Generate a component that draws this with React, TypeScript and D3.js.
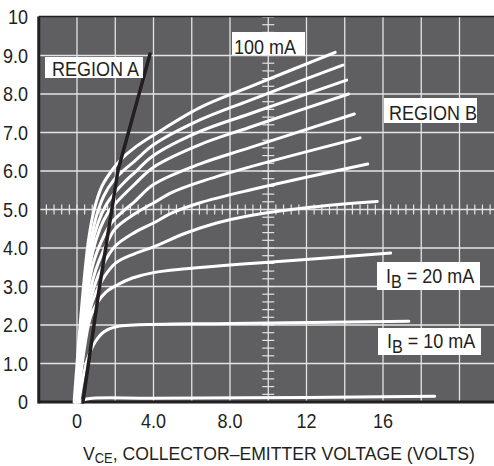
import React from "react";
import * as d3 from "d3";

const W = 494;
const H = 466;

// y-axis tick labels (collector current, A) and x-axis tick labels (V)
const yTicks = [0, 1, 2, 3, 4, 5, 6, 7, 8, 9, 10];
const yTickLabels = ["0", "1.0", "2.0", "3.0", "4.0", "5.0", "6.0", "7.0", "8.0", "9.0", "10"];
const xTicks = [0, 4, 8, 12, 16];
const xTickLabels = ["0", "4.0", "8.0", "12", "16"];
const xGrid = [0, 2, 4, 6, 8, 10, 12, 14, 16, 18, 20];
const yGrid = [1, 2, 3, 4, 5, 6, 7, 8, 9];

// characteristic curves [Vce (V), Ic (A)] for each base current
const ib0: [number, number][] = [[0.15, 0], [0.5, 0.08], [4, 0.1], [12, 0.12], [18.7, 0.15]];
const ib10: [number, number][] = [[0.1, 0], [0.3, 0.6], [0.55, 1.12], [0.95, 1.56], [1.4, 1.82], [2.1, 1.96], [3, 2.0], [8, 2.04], [17.35, 2.1]];
const ib20: [number, number][] = [[0.05, 0], [0.3, 1.1], [0.7, 2.2], [1.05, 2.57], [1.5, 2.85], [2.1, 3.04], [2.9, 3.22], [4, 3.36], [5.7, 3.46], [8.5, 3.58], [10, 3.63], [16.4, 3.87]];
const ib30: [number, number][] = [[0, 0], [0.3, 1.35], [0.8, 2.6], [1.3, 3.15], [2, 3.6], [3, 3.85], [4, 4.03], [5.7, 4.39], [7.3, 4.65], [9, 4.84], [12.2, 5.06], [15.7, 5.21]];
const ib40: [number, number][] = [[0, 0], [0.3, 1.6], [0.9, 3.0], [1.4, 3.6], [2, 4.05], [3, 4.4], [4, 4.65], [5, 4.92], [6.4, 5.17], [9, 5.5], [15.2, 6.18]];
const ib50: [number, number][] = [[-0.05, 0], [0.3, 1.8], [0.9, 3.3], [1.4, 3.95], [2, 4.5], [3, 4.88], [4, 5.17], [5, 5.45], [6.4, 5.71], [9, 6.1], [14.8, 6.86]];
const ib60: [number, number][] = [[-0.05, 0], [0.3, 2.0], [0.85, 3.6], [1.3, 4.2], [1.8, 4.65], [2.4, 4.95], [3, 5.2], [4, 5.65], [6.4, 6.18], [9, 6.6], [14.5, 7.48]];
const ib70: [number, number][] = [[-0.08, 0], [0.3, 2.2], [0.8, 3.85], [1.2, 4.5], [1.6, 4.9], [2, 5.15], [3, 5.65], [4, 6.1], [6.4, 6.68], [9, 7.13], [14.2, 8.0]];
const ib80: [number, number][] = [[-0.1, 0], [0.3, 2.3], [0.75, 4.0], [1.1, 4.65], [1.5, 5.1], [2, 5.45], [2.5, 5.72], [3, 5.95], [4, 6.4], [6.4, 7.02], [9, 7.48], [14.1, 8.36]];
const ib90: [number, number][] = [[-0.12, 0], [0.3, 2.4], [0.7, 4.1], [1.0, 4.8], [1.4, 5.35], [1.9, 5.75], [2.4, 6.0], [3, 6.25], [4, 6.68], [6.4, 7.32], [9, 7.83], [13.9, 8.75]];
const ib100: [number, number][] = [[-0.15, 0], [0.25, 2.5], [0.6, 4.2], [0.9, 5.0], [1.3, 5.6], [1.8, 6.0], [2.3, 6.3], [3, 6.6], [4, 6.93], [6.4, 7.64], [9, 8.18], [13.5, 9.08]];
const curves = [ib0, ib10, ib20, ib30, ib40, ib50, ib60, ib70, ib80, ib90, ib100];

// boundary line separating region A (saturation)
const regionA: [number, number][] = [[0.31, 0], [1.15, 2.9], [2.15, 6.03], [3.3, 8.1], [3.82, 9.04]];

const BG = "#5f5f62";
const GRID = "#e4e4e4";
const INK = "#231f20";
const FONT = "'Liberation Sans', Arial, Helvetica, sans-serif";

const x = d3.scaleLinear().domain([0, 16]).range([77, 383]);
const y = d3.scaleLinear().domain([0, 10]).range([402, 17]);

const left = x(-2);
const top = 16.5;
const bottom = y(0);

function Txt(props: { x: number; y: number; anchor?: string; size?: number; sx?: number; children: any }) {
  const { anchor = "start", size = 20, sx = 0.9 } = props;
  return (
    <g transform={`translate(${props.x},${props.y}) scale(${sx},1)`}>
      <text textAnchor={anchor as any} fontSize={size} fontFamily={FONT} fill={INK}>
        {props.children}
      </text>
    </g>
  );
}

export default function App() {
  const line = d3
    .line<[number, number]>()
    .x((d) => x(d[0]))
    .y((d) => y(d[1]))
    .curve(d3.curveCatmullRom.alpha(0.5));
  const straight = d3
    .line<[number, number]>()
    .x((d) => x(d[0]))
    .y((d) => y(d[1]));

  // crosshair minor ticks
  const hTicks = d3.range(-2, 21.8, 0.4);
  const vTicks = d3.range(0, 10.01, 0.2);

  return (
    <div style={{ position: "fixed", left: 0, top: 0 }}>
      <svg width={W} height={H} style={{ display: "block", background: "#fff" }}>
        <rect x={left} y={top} width={W - left} height={bottom - top} fill={BG} />
        {xGrid.map((v) => (
          <line key={"xg" + v} x1={x(v)} x2={x(v)} y1={top} y2={bottom} stroke={GRID} strokeWidth={1.3} />
        ))}
        {yGrid.map((v) => (
          <line key={"yg" + v} x1={left} x2={W} y1={y(v)} y2={y(v)} stroke={GRID} strokeWidth={1.3} />
        ))}
        {hTicks.map((v, i) => (
          <line key={"ht" + i} x1={x(v)} x2={x(v)} y1={y(5) - 5} y2={y(5) + 5} stroke={GRID} strokeWidth={1.2} />
        ))}
        {vTicks.map((v, i) => (
          <line key={"vt" + i} x1={x(10) - 6} x2={x(10) + 6} y1={y(v)} y2={y(v)} stroke={GRID} strokeWidth={1.2} />
        ))}
        {/* frame */}
        <line x1={left} x2={W} y1={top} y2={top} stroke={INK} strokeWidth={1.5} />
        <line x1={left} x2={W} y1={bottom} y2={bottom} stroke={INK} strokeWidth={3} />
        <line x1={left} x2={left} y1={top} y2={bottom + 1.5} stroke={INK} strokeWidth={3} />

        {curves.map((c, i) => (
          <path key={"c" + i} d={line(c) || ""} fill="none" stroke="#ffffff" strokeWidth={3} strokeLinecap="round" />
        ))}
        <path d={straight(regionA) || ""} fill="none" stroke={INK} strokeWidth={3.5} strokeLinecap="round" />

        {/* labels */}
        <rect x={45} y={57} width={98} height={21} fill="#fff" />
        <Txt x={52} y={76}>REGION A</Txt>
        <rect x={232} y={32} width={73} height={23} fill="#fff" />
        <Txt x={234} y={54}>100 mA</Txt>
        <rect x={384} y={98} width={93} height={25} fill="#fff" />
        <Txt x={389} y={120}>REGION B</Txt>
        <rect x={377} y={262} width={103} height={28} fill="#fff" />
        <Txt x={386} y={283}>
          I<tspan dy={5} fontSize={18}>B</tspan>
          <tspan dy={-5}> = 20 mA</tspan>
        </Txt>
        <rect x={378} y={328} width={103} height={27} fill="#fff" />
        <Txt x={387} y={348}>
          I<tspan dy={5} fontSize={18}>B</tspan>
          <tspan dy={-5}> = 10 mA</tspan>
        </Txt>

        {/* axes labels */}
        {yTicks.map((v, i) => (
          <Txt key={"yl" + v} x={28} y={y(v) + 7} anchor="end">
            {yTickLabels[i]}
          </Txt>
        ))}
        {xTicks.map((v, i) => (
          <Txt key={"xl" + v} x={x(v)} y={428} anchor="middle">
            {xTickLabels[i]}
          </Txt>
        ))}
        <Txt x={83} y={460} size={19} sx={0.926}>
          V<tspan dy={3} fontSize={14}>CE</tspan>
          <tspan dy={-3}>, COLLECTOR–EMITTER VOLTAGE (VOLTS)</tspan>
        </Txt>
      </svg>
    </div>
  );
}
